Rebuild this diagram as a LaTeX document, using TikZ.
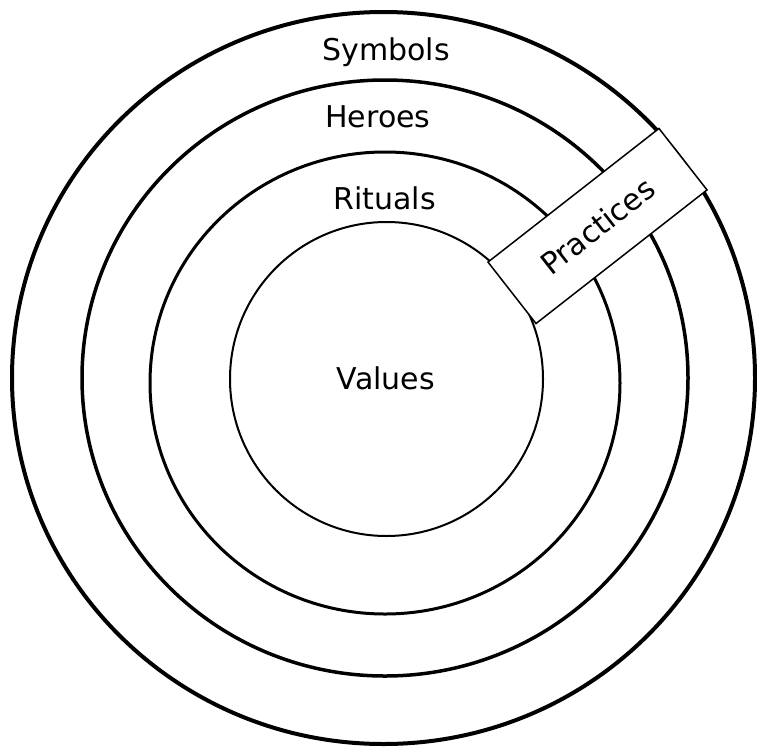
\documentclass[tikz,border=0pt]{standalone}
\usepackage{fontspec}
\setmainfont{DejaVu Sans}
\begin{document}
\begin{tikzpicture}[x=1pt,y=-1pt,
  ring/.style={draw=black},
  lbl/.style={font=\fontsize{30}{32}\selectfont, inner sep=0pt},
  pbox/.style={draw=black, line width=1.5pt, fill=white, rotate=38,
    minimum width=217pt, minimum height=78pt, inner sep=0pt,
    font=\fontsize{30}{32}\selectfont}]
\useasboundingbox (0,0) rectangle (757,747);
\draw[ring, line width=4pt] (383.5,378) ellipse [x radius=371.5, y radius=366];
\draw[ring, line width=3.5pt] (385,378) ellipse [x radius=303, y radius=298];
\draw[ring, line width=3pt] (385,383) ellipse [x radius=235, y radius=231];
\draw[ring, line width=2pt] (386.5,379) ellipse [x radius=156.5, y radius=157];
\node[pbox] (practices) at (597.5,226) {Practices};
\node[lbl] (symbols) at (386,52) {Symbols};
\node[lbl] (heroes) at (378,117) {Heroes};
\node[lbl] (rituals) at (384.5,198) {Rituals};
\node[lbl] (values) at (386,378) {Values};
\end{tikzpicture}
\end{document}
